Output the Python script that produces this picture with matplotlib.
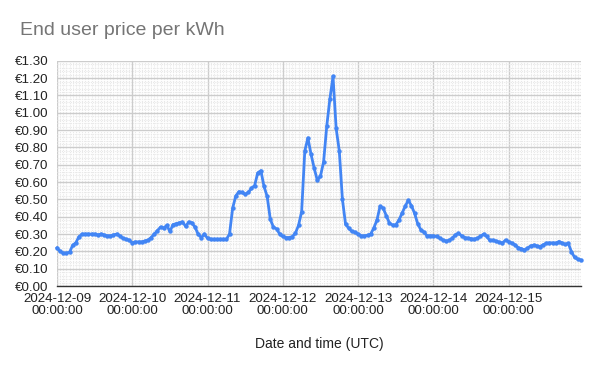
import matplotlib
matplotlib.use("Agg")
import matplotlib.pyplot as plt
import matplotlib.dates as mdates
from matplotlib.ticker import MultipleLocator, FuncFormatter
from datetime import datetime, timedelta

plt.rcParams['font.family'] = ['Liberation Sans', 'DejaVu Sans']

title = "End user price per kWh"
x_label = "Date and time (UTC)"
start = datetime(2024, 12, 9, 0, 0, 0)

# hourly prices (EUR/kWh), one list per day
day_09 = [0.22, 0.20, 0.19, 0.19, 0.195, 0.235, 0.25, 0.285, 0.30, 0.30, 0.30, 0.30,
          0.30, 0.295, 0.30, 0.295, 0.29, 0.29, 0.295, 0.30, 0.29, 0.275, 0.27, 0.265]
day_10 = [0.25, 0.255, 0.255, 0.255, 0.26, 0.265, 0.28, 0.30, 0.32, 0.34, 0.335, 0.35,
          0.315, 0.355, 0.36, 0.365, 0.37, 0.345, 0.37, 0.365, 0.34, 0.30, 0.28, 0.30]
day_11 = [0.275, 0.27, 0.27, 0.27, 0.27, 0.27, 0.27, 0.30, 0.45, 0.52, 0.545, 0.54,
          0.53, 0.54, 0.565, 0.58, 0.653, 0.666, 0.575, 0.518, 0.386, 0.34, 0.33, 0.30]
day_12 = [0.286, 0.28, 0.28, 0.285, 0.305, 0.35, 0.43, 0.78, 0.855, 0.76, 0.68, 0.61,
          0.635, 0.717, 0.923, 1.08, 1.21, 0.91, 0.78, 0.50, 0.357, 0.334, 0.315, 0.31]
day_13 = [0.30, 0.29, 0.29, 0.293, 0.30, 0.335, 0.38, 0.46, 0.45, 0.405, 0.363, 0.352,
          0.353, 0.38, 0.42, 0.46, 0.495, 0.464, 0.42, 0.36, 0.325, 0.31, 0.29, 0.29]
day_14 = [0.29, 0.286, 0.276, 0.267, 0.26, 0.263, 0.276, 0.295, 0.305, 0.29, 0.28, 0.276,
          0.274, 0.27, 0.276, 0.286, 0.30, 0.286, 0.263, 0.265, 0.259, 0.253, 0.249, 0.265]
day_15 = [0.257, 0.247, 0.238, 0.222, 0.216, 0.209, 0.218, 0.232, 0.236, 0.232, 0.228, 0.238,
          0.247, 0.249, 0.249, 0.247, 0.257, 0.249, 0.24, 0.247, 0.199, 0.166, 0.155, 0.15]

prices = day_09 + day_10 + day_11 + day_12 + day_13 + day_14 + day_15
times = [start + timedelta(hours=i) for i in range(len(prices))]

fig = plt.figure(figsize=(6.0, 3.71), dpi=100)
ax = fig.add_axes([0.095, 0.229, 0.873, 0.607])

ax.plot(times, prices, color='#4285F4', linewidth=2, marker='o', markersize=2.2,
        zorder=3, clip_on=False)

ax.set_ylim(0, 1.30)
ax.set_xlim(times[0], times[-1])
ax.yaxis.set_major_locator(MultipleLocator(0.10))
ax.yaxis.set_minor_locator(MultipleLocator(0.02))
ax.yaxis.set_major_formatter(FuncFormatter(lambda v, p: "€%.2f" % v))

ax.xaxis.set_major_locator(mdates.DayLocator())
ax.xaxis.set_minor_locator(mdates.HourLocator(interval=1))
ax.xaxis.set_major_formatter(mdates.DateFormatter('%Y-%m-%d\n%H:%M:%S'))

ax.grid(which='major', color='#cccccc', linewidth=1.0)
ax.grid(which='minor', color='#e8e8e8', linewidth=0.8, linestyle=(0, (1, 1)))
ax.set_axisbelow(True)

for s in ['top', 'right', 'left']:
    ax.spines[s].set_visible(False)
ax.spines['bottom'].set_color('#333333')
ax.spines['bottom'].set_linewidth(1.0)

ax.tick_params(axis='both', which='both', length=0, labelsize=9.6, colors='#222222')
ax.tick_params(axis='y', pad=6)
ax.tick_params(axis='x', pad=5)
for lbl in ax.get_xticklabels():
    lbl.set_linespacing(1.05)

ax.set_xlabel(x_label, fontsize=10, color='#222222', labelpad=14)
fig.text(0.033, 0.918, title, fontsize=14, color='#757575', ha='left', va='center')

fig.savefig('out.png', dpi=100, facecolor='white')
